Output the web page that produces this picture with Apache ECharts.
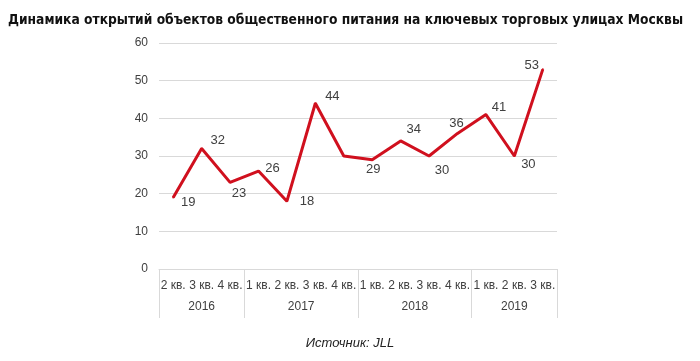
<!DOCTYPE html>
<html><head><meta charset="utf-8">
<script src="https://cdn.jsdelivr.net/npm/echarts@6/dist/echarts.min.js"></script>
<style>html,body{margin:0;padding:0;background:#fff}#c{width:700px;height:361px}</style>
</head><body><div id="c"></div>
<script>
var quarters = ['2 кв.','3 кв.','4 кв.','1 кв.','2 кв.','3 кв.','4 кв.','1 кв.','2 кв.','3 кв.','4 кв.','1 кв.','2 кв.','3 кв.'];
var years = ['2016','2017','2018','2019'];
var yearSizes = [3,4,4,3];
var values = [19,32,23,26,18,44,30,29,34,30,36,41,30,53];
var showLabel = [true,true,true,true,true,true,false,true,true,true,true,true,true,true];
var yTicks = [0,10,20,30,40,50,60];
var labelOffsets = [[15,5],[16,-8],[9,11],[14,-3],[20,0],[17,-7],[0,0],[1,10],[13,-12],[13,14],[-1,-10],[13,-7],[14,8],[-11,-4]];

var bounds = [0], centers = [];
yearSizes.forEach(function(n){ var s = bounds[bounds.length-1]; centers.push(s + n/2); bounds.push(s + n); });

var data = values.map(function(v,i){
  return {value: v, label: {show: showLabel[i], offset: labelOffsets[i]}};
});

var chart = echarts.init(document.getElementById('c'));
chart.setOption({
  animation: false,
  title: [
    {text: 'Динамика открытий объектов общественного питания на ключевых торговых улицах Москвы', left: 3, top: 8,
     textStyle: {fontFamily: 'DejaVu Sans Condensed', fontWeight: 'bold', fontSize: 13.7, color: '#111'}},
    {text: 'Источник: JLL', left: 'center', top: 332,
     textStyle: {fontFamily: 'Liberation Sans', fontStyle: 'italic', fontWeight: 'normal', fontSize: 13, color: '#222'}}
  ],
  grid: {left: 159, right: 143, top: 43, bottom: 92},
  xAxis: [
    {type: 'category', data: quarters, boundaryGap: true,
     axisLine: {lineStyle: {color: '#d9d9d9'}}, axisTick: {show: false},
     axisLabel: {interval: 0, margin: 11, fontSize: 12, color: '#404040', fontFamily: 'Liberation Sans'}},
    {type: 'value', min: 0, max: bounds[bounds.length-1], position: 'bottom',
     axisLine: {show: false}, splitLine: {show: false},
     axisTick: {show: true, customValues: bounds, length: 49, lineStyle: {color: '#d9d9d9'}},
     axisLabel: {customValues: centers, margin: 32, fontSize: 12, color: '#404040', fontFamily: 'Liberation Sans',
       formatter: function(v){ var i = centers.indexOf(v); return i >= 0 ? years[i] : ''; }}}
  ],
  yAxis: {type: 'value', min: yTicks[0], max: yTicks[yTicks.length-1], interval: 10,
    axisLine: {show: false}, axisTick: {show: false},
    splitLine: {lineStyle: {color: '#d9d9d9'}},
    axisLabel: {margin: 11, fontSize: 12, color: '#404040', fontFamily: 'Liberation Sans'}},
  series: [{
    type: 'line', data: data, xAxisIndex: 0,
    symbol: 'circle', symbolSize: 2, itemStyle: {color: '#d0101e'},
    lineStyle: {color: '#d0101e', width: 3},
    label: {position: 'inside', fontSize: 13, color: '#404040', fontFamily: 'Liberation Sans'}
  }]
});
</script></body></html>
